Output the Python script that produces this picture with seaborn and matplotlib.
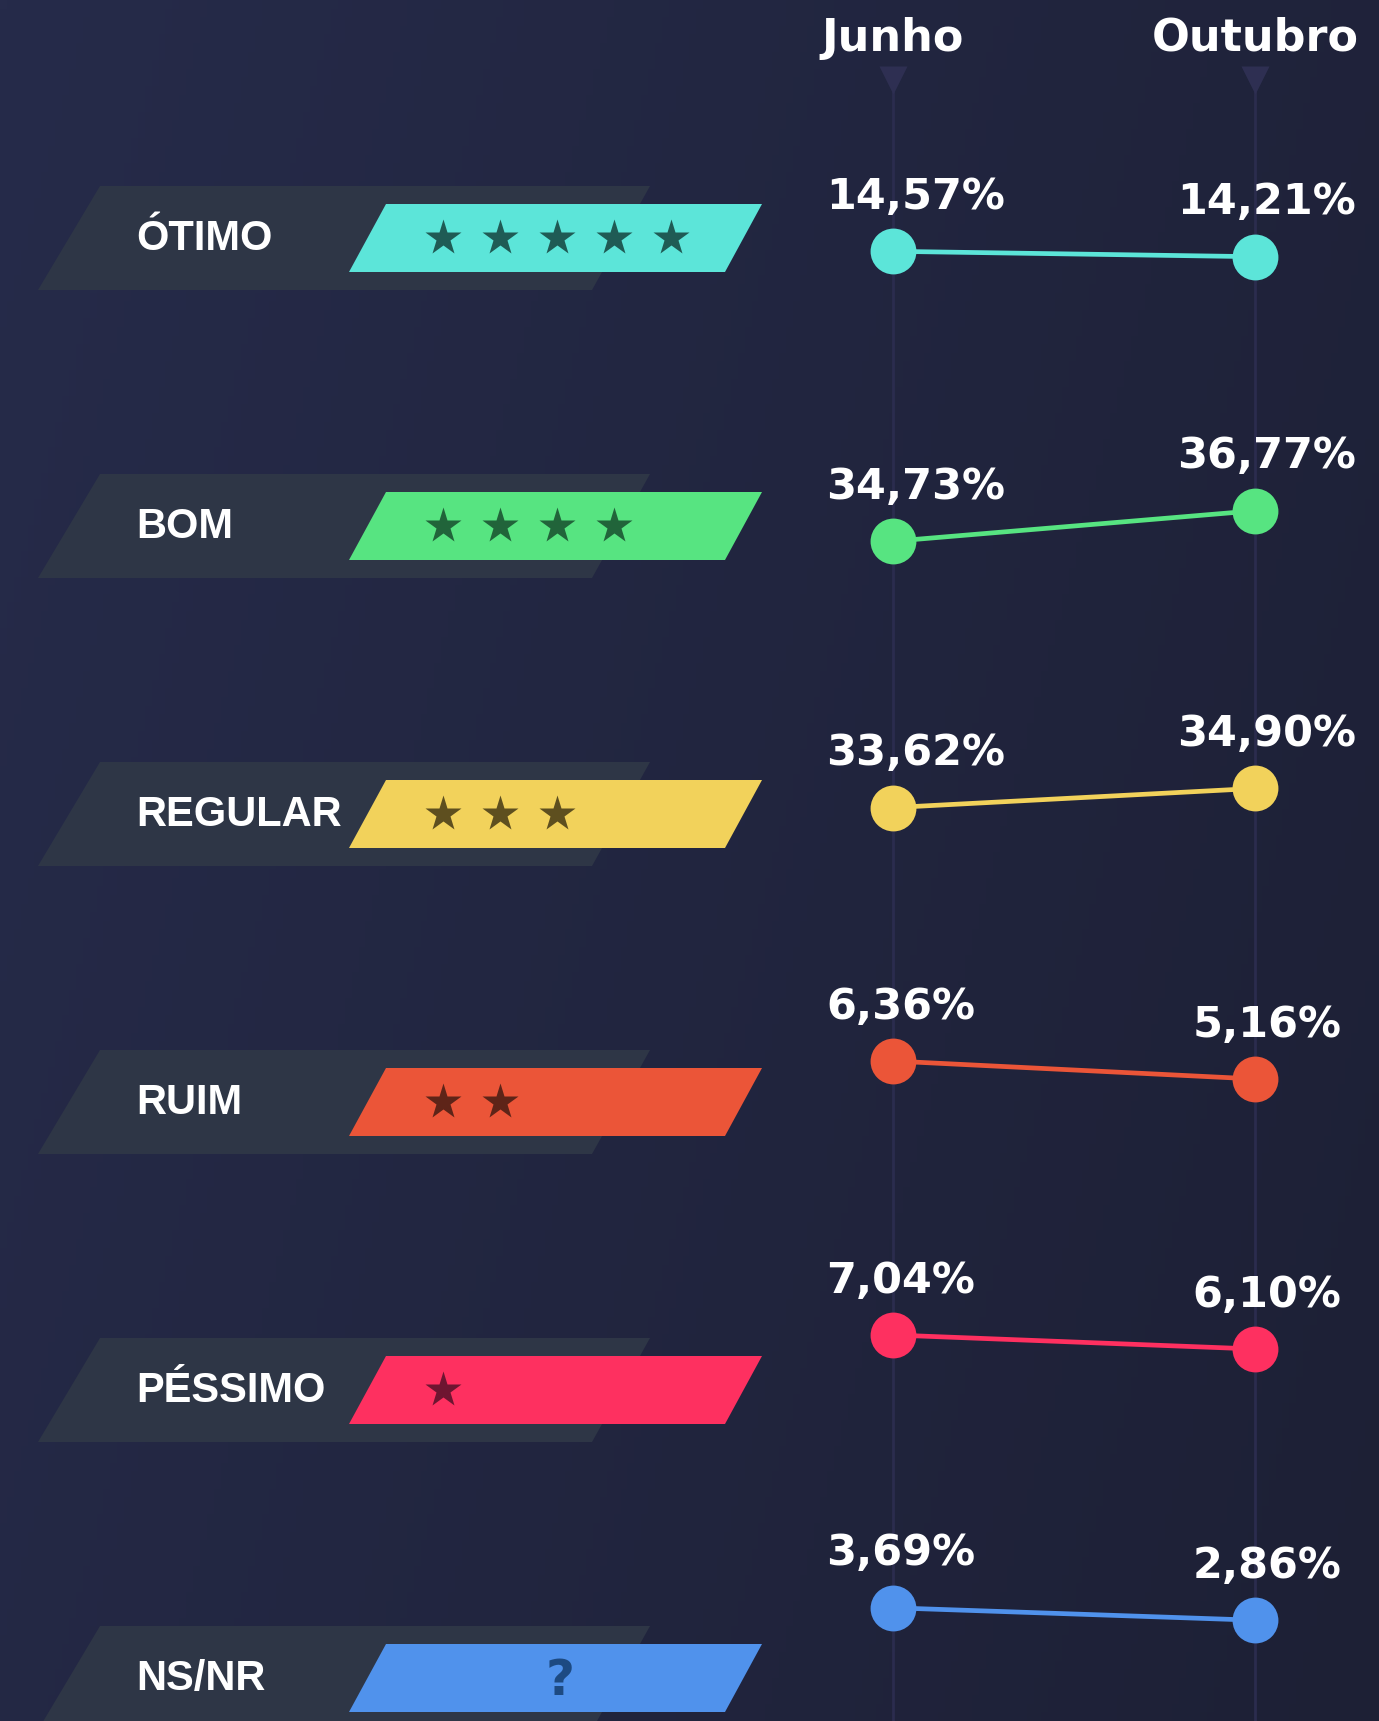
import numpy as np
import pandas as pd
import matplotlib.pyplot as plt
import seaborn as sns
from matplotlib.patches import Polygon
from matplotlib.colors import to_rgb

# dados
categorias = ['ÓTIMO', 'BOM', 'REGULAR', 'RUIM', 'PÉSSIMO', 'NS/NR']
meses = ['Junho', 'Outubro']
junho = [14.57, 34.73, 33.62, 6.36, 7.04, 3.69]
outubro = [14.21, 36.77, 34.90, 5.16, 6.10, 2.86]
estrelas = [5, 4, 3, 2, 1, 0]
cores = ['#5ce5d9', '#57e481', '#f2d25b', '#eb5538', '#fe3060', '#5092ec']
cores_icone = ['#1f5b55', '#21643a', '#5e4f1f', '#5e2418', '#6e1531', '#1d4a82']

W, H = 1379, 1721
COL_X = [893, 1255]          # colunas Junho / Outubro (px)
ROW0, ROW_STEP = 254, 272    # linhas do grafico (px)
INCL = 0.055                 # inclinacao por ponto percentual

sns.set_theme(style='white')
plt.rcParams['font.family'] = ['DejaVu Sans']

fig = plt.figure(figsize=(W / 100, H / 100), dpi=100)

# fundo
bg = fig.add_axes([0, 0, 1, 1])
bg.set_xlim(0, W)
bg.set_ylim(H, 0)
bg.axis('off')
X, Y = np.meshgrid(np.linspace(0, 1, 200), np.linspace(0, 1, 200))
t = 0.75 * X + 0.25 * Y
c0 = np.array(to_rgb('#262b4a'))
c1 = np.array(to_rgb('#1d2035'))
bg.imshow(c0 + (c1 - c0) * t[..., None], extent=(0, W, H, 0), aspect='auto', zorder=0)

# faixas com rotulos
for i, cat in enumerate(categorias):
    c = 238 + 288 * i
    bg.add_patch(Polygon([(100, c - 52), (650, c - 52), (592, c + 52), (38, c + 52)],
                         closed=True, fc='#2e3646', ec='none', zorder=1))
    bg.add_patch(Polygon([(386, c - 34), (762, c - 34), (725, c + 34), (349, c + 34)],
                         closed=True, fc=cores[i], ec='none', zorder=2))
    bg.text(136, c + 1, cat, family=['Liberation Sans', 'DejaVu Sans'], weight='bold',
            size=30, color='white', ha='left', va='center', zorder=3)
    if estrelas[i]:
        xs = 443 + 57 * np.arange(estrelas[i])
        bg.plot(xs, [c] * len(xs), ls='none', marker='*', ms=27, color=cores_icone[i],
                mec='none', zorder=3)
    else:
        bg.text(560, c + 3, '?', size=36, weight='bold', color=cores_icone[i],
                ha='center', va='center', zorder=3)

# guias verticais e cabecalhos
for x, mes in zip(COL_X, meses):
    bg.plot([x, x], [88, H], color='#2b2c4e', lw=2, zorder=1)
    bg.plot([x], [80], marker='v', ms=20, color='#2e2f52', mec='none', zorder=1)
    bg.text(x, 38, mes, size=32, weight='bold', color='white', ha='center', va='center')

# grafico de inclinacao
rows = []
for i, cat in enumerate(categorias):
    media = (junho[i] + outubro[i]) / 2
    for j, val in enumerate([junho[i], outubro[i]]):
        rows.append({'categoria': cat, 'mes': j, 'valor': val,
                     'pos': i - INCL * (val - media)})
df = pd.DataFrame(rows)

ax = fig.add_axes([0, 0, 1, 1])
ax.patch.set_alpha(0)
sns.lineplot(data=df, x='mes', y='pos', hue='categoria', palette=dict(zip(categorias, cores)),
             marker='o', markersize=33, markeredgewidth=0, linewidth=3.4,
             estimator=None, sort=False, legend=False, ax=ax)
sx = COL_X[1] - COL_X[0]
ax.set_xlim(-COL_X[0] / sx, (W - COL_X[0]) / sx)
top = -ROW0 / ROW_STEP
ax.set_ylim(top + H / ROW_STEP, top)
ax.axis('off')

for r in df.itertuples():
    txt = f"{r.valor:.2f}".replace('.', ',') + '%'
    if r.mes == 0:
        ax.text(-0.185, r.pos - 0.2, txt, size=31, weight='bold', color='white',
                ha='left', va='center')
    else:
        ax.text(1.033, r.pos - 0.2, txt, size=31, weight='bold', color='white',
                ha='center', va='center')

fig.savefig('out.png', dpi=100)
